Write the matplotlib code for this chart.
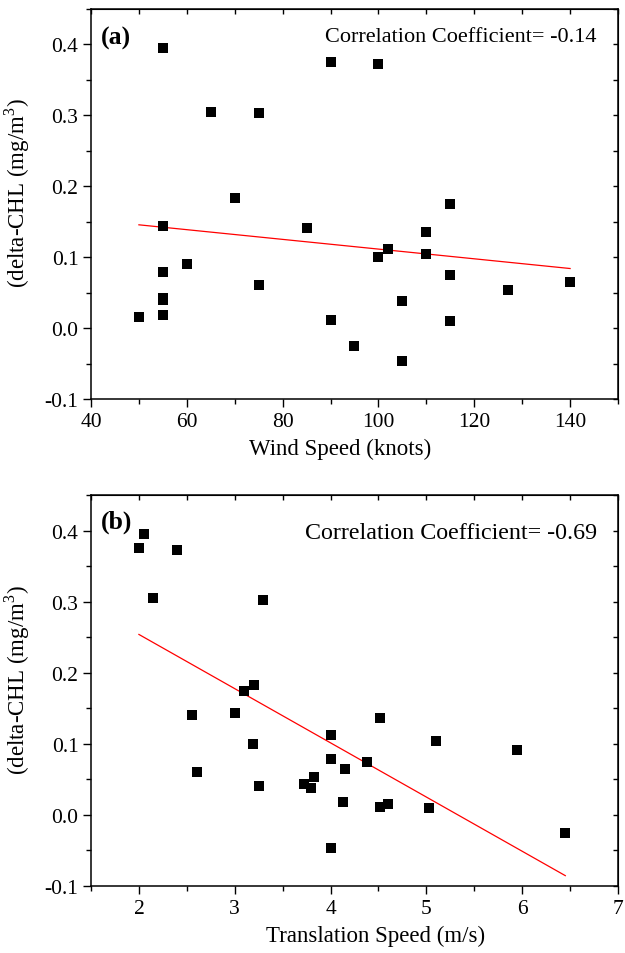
import numpy as np
import matplotlib
matplotlib.use("Agg")
import matplotlib.pyplot as plt
from matplotlib.ticker import MultipleLocator

# Data (delta-CHL shared; wind speed and translation speed per storm)
delta_chl = [0.395, 0.375, 0.372, 0.305, 0.303, 0.183, 0.175, 0.144, 0.141, 0.136,
             0.112, 0.104, 0.100, 0.091, 0.079, 0.075, 0.065, 0.061, 0.054, 0.043,
             0.040, 0.038, 0.018, 0.015, 0.011, 0.010, -0.025, -0.046]
wind_speed = [55, 90, 100, 65, 75, 70, 115, 55, 85, 110,
              102, 110, 100, 60, 55, 115, 140, 75, 127, 55,
              55, 105, 55, 50, 90, 115, 95, 105]
trans_speed = [2.05, 2.0, 2.4, 2.15, 3.3, 3.2, 3.1, 3.0, 2.55, 4.52,
               4.0, 5.1, 3.19, 5.95, 4.0, 4.38, 4.15, 2.61, 3.83, 3.72,
               3.25, 3.8, 4.13, 4.6, 4.52, 5.03, 6.45, 4.0]
corr_texts = ["Correlation Coefficient= -0.14", "Correlation Coefficient= -0.69"]
panel_labels = ["(a)", "(b)"]
xlabels = ["Wind Speed (knots)", "Translation Speed (m/s)"]
ylabel = "(delta-CHL (mg/m$^3$)"

plt.rcParams['font.family'] = ['Liberation Serif', 'DejaVu Serif']
plt.rcParams['mathtext.fontset'] = 'custom'
plt.rcParams['mathtext.rm'] = 'Liberation Serif'

fig = plt.figure(figsize=(6.25, 9.54), dpi=100)
ax1 = fig.add_axes([0.1456, 0.5807, 0.8432, 0.4088])
ax2 = fig.add_axes([0.1456, 0.0702, 0.8432, 0.4099])

configs = [
    (ax1, wind_speed, (40, 150), 20, 10, 0.960, 0.929, 0.928, 16, 0.473),
    (ax2, trans_speed, (1.5, 7), 1, 0.5, 0.960, 0.905, 0.934, 17.3, 0.54),
]

y = np.array(delta_chl)
for i, (ax, xs, xlim, xmaj, xmin, cx, cy, ly, cfs, xlx) in enumerate(configs):
    x = np.array(xs, dtype=float)
    ax.plot(x, y, linestyle='none', marker='s', markersize=6.5, color='black',
            markeredgewidth=0, zorder=3)
    coef = np.polyfit(x, y, 1)
    xl = np.array([x.min(), x.max()])
    ax.plot(xl, np.polyval(coef, xl), color='red', linewidth=0.9, zorder=2)

    ax.set_xlim(*xlim)
    ax.set_ylim(-0.1, 0.45)
    ax.xaxis.set_major_locator(MultipleLocator(xmaj))
    ax.xaxis.set_minor_locator(MultipleLocator(xmin))
    ax.yaxis.set_major_locator(MultipleLocator(0.1))
    ax.yaxis.set_minor_locator(MultipleLocator(0.05))
    ax.set_yticks([-0.1, 0.0, 0.1, 0.2, 0.3, 0.4])
    ax.set_yticklabels(["-0.1", "0.0", "0.1", "0.2", "0.3", "0.4"])

    ax.tick_params(axis='both', which='major', direction='out', length=6, width=1.0,
                   labelsize=15.5, pad=3)
    ax.tick_params(axis='both', which='minor', direction='out', length=3.5, width=1.0)

    for s in ax.spines.values():
        s.set_linewidth(1.1)

    # Top and right axes with inward ticks, no labels
    secx = ax.secondary_xaxis('top')
    secx.xaxis.set_major_locator(MultipleLocator(xmin))
    secx.tick_params(direction='in', length=3.8, width=1.0, labelsize=0)
    secx.set_xticklabels([])
    secy = ax.secondary_yaxis('right')
    secy.yaxis.set_major_locator(MultipleLocator(0.05))
    secy.tick_params(direction='in', length=3.8, width=1.0, labelsize=0)
    secy.set_yticklabels([])

    ax.set_xlabel(xlabels[i], fontsize=16.5)
    ax.xaxis.set_label_coords(xlx, -0.1)
    ax.set_ylabel(ylabel, fontsize=16.5)
    ax.yaxis.set_label_coords(-0.112, 0.53)
    ax.text(cx, cy, corr_texts[i], transform=ax.transAxes, ha='right', va='center',
            fontsize=cfs)
    ax.text(0.019, ly, panel_labels[i], transform=ax.transAxes, ha='left', va='center',
            fontsize=18.5, fontweight='bold')

fig.savefig("out.png", dpi=100)
